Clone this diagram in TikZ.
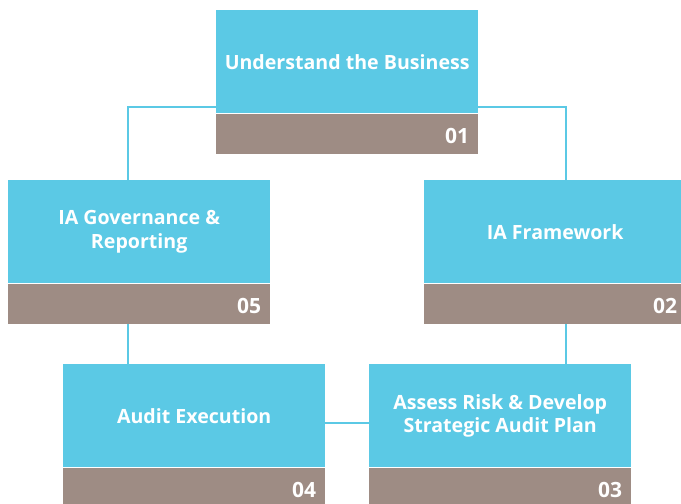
\documentclass[tikz,border=0pt]{standalone}
\usepackage{fontspec}
\setmainfont{Open Sans}
\usetikzlibrary{positioning}
\definecolor{cardcyan}{HTML}{5BC9E5}
\definecolor{cardtaupe}{HTML}{9E8C84}

\begin{document}
\begin{tikzpicture}[x=1pt, y=-1pt,
		card/.style={fill=cardcyan, text=white, minimum width=262pt, minimum height=103pt,
			inner sep=0pt, align=center, anchor=north west,
			font=\bfseries\fontsize{19.6}{23.5}\selectfont},
		cardnum/.style={fill=cardtaupe, text=white, minimum height=40pt, inner ysep=0pt,
			inner xsep=9pt, text width=244pt, align=right, below=0pt of #1,
			text height=20pt, text depth=0pt,
			font=\bfseries\fontsize{21}{21}\selectfont},
		link/.style={draw=cardcyan, line width=2pt}]
		%%%%% START %%%%%
		
		\useasboundingbox (0, 0) rectangle (681, 504);
		
		% cards
		\node[card] (business) at (216, 10) {Understand the Business};
		\node[cardnum=business] (business-num) {01};
		
		\node[card] (framework) at (424, 180) {IA Framework};
		\node[cardnum=framework] (framework-num) {02};
		
		\node[card] (assess) at (369, 364) {Assess Risk \& Develop\\Strategic Audit Plan};
		\node[cardnum=assess] (assess-num) {03};
		
		\node[card] (execution) at (63, 364) {Audit Execution};
		\node[cardnum=execution] (execution-num) {04};
		
		\node[card] (governance) at (8, 180) {IA Governance \&\\Reporting};
		\node[cardnum=governance] (governance-num) {05};
		
		% rails
		\coordinate (leftrail) at (127.5, 0);
		\coordinate (rightrail) at (565.7, 0);
		
		% links
		\draw[link] ([yshift=6pt]business.south west) -| (leftrail |- governance.north);
		\draw[link] ([yshift=6pt]business.south east) -| (rightrail |- framework.north);
		\draw[link] (leftrail |- governance-num.south) -- (leftrail |- execution.north);
		\draw[link] (rightrail |- framework-num.south) -- (rightrail |- assess.north);
		\draw[link] ([yshift=-7.5pt]execution.east) -- ([yshift=-7.5pt]assess.west);
		
		%%%%% END %%%%%
	\end{tikzpicture}
\end{document}
